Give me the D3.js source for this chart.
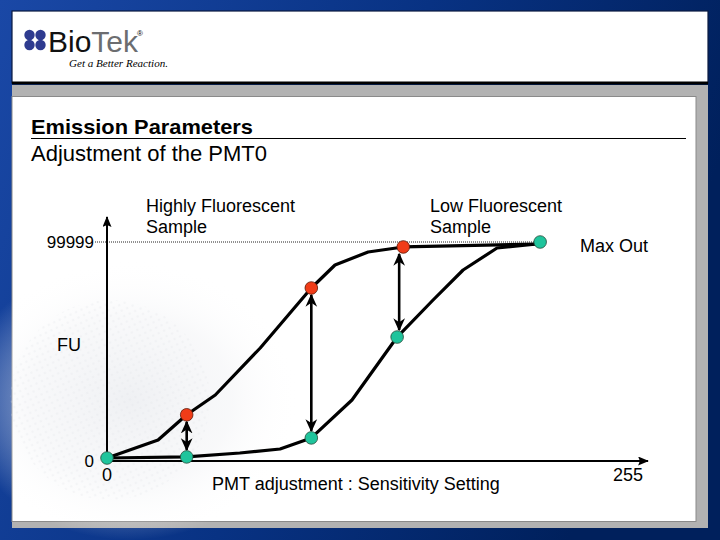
<!DOCTYPE html>
<html>
<head>
<meta charset="utf-8">
<script src="https://cdn.jsdelivr.net/npm/d3@7/dist/d3.min.js"></script>
<style>
  html, body { margin: 0; padding: 0; background: #0a2f80; }
  svg { display: block; }
  text { font-family: Arial, "Liberation Sans", sans-serif; fill: #000; }
</style>
</head>
<body>
<script>
// ---------------- data ----------------
const xTickValues = [0, 255];
const xTickLabels = ["0", "255"];
const yTickValues = [0, 99999];
const yTickLabels = ["0", "99999"];

// Highly fluorescent sample curve (sensitivity, FU)
const highX = [0, 25, 39, 53, 75, 100, 111.6, 127.8, 145, 210.5];
const highY = [0, 8333, 20000, 29166, 50925, 78700, 89351, 95370, 97700, 99074];
// Low fluorescent sample curve
const lowX = [0, 39, 65, 84.7, 100, 119.9, 142, 159.6, 174.3, 190.9, 210.5];
const lowY = [0, 500, 2315, 4166, 9300, 26851, 56000, 73148, 87036, 97222, 99074];

// highlighted points
const redDotX = [39, 100, 145];
const redDotY = [20000, 78700, 97700];
const greenDotX = [0, 39, 100, 142, 212];
const greenDotY = [0, 500, 9300, 56000, 99999];

// double-headed arrows between the two samples
const arrowX = [39, 100, 143];
const arrowTop = [20000, 78700, 97700];
const arrowBottom = [500, 9300, 56000];

const titleLine1 = "Emission Parameters";
const titleLine2 = "Adjustment of the PMT0";
const yAxisLabel = "FU";
const xAxisLabel = "PMT adjustment : Sensitivity Setting";
const maxLabel = "Max Out";
const highLabel = ["Highly Fluorescent", "Sample"];
const lowLabel = ["Low Fluorescent", "Sample"];

// ---------------- drawing ----------------
const W = 720, H = 540;
const svg = d3.select("body").append("svg").attr("width", W).attr("height", H);
const defs = svg.append("defs");

const bg = defs.append("linearGradient").attr("id", "bg").attr("x1", 0).attr("y1", 0).attr("x2", 1).attr("y2", 0.3);
bg.append("stop").attr("offset", 0).attr("stop-color", "#1a48a6");
bg.append("stop").attr("offset", 0.55).attr("stop-color", "#083283");
bg.append("stop").attr("offset", 1).attr("stop-color", "#00205c");

const tex = defs.append("radialGradient").attr("id", "tex")
  .attr("cx", 0.5).attr("cy", 0.5).attr("r", 0.5);
tex.append("stop").attr("offset", 0).attr("stop-color", "#e8eaee").attr("stop-opacity", 0.7);
tex.append("stop").attr("offset", 0.6).attr("stop-color", "#f0f1f4").attr("stop-opacity", 0.45);
tex.append("stop").attr("offset", 1).attr("stop-color", "#ffffff").attr("stop-opacity", 0);

const dotsPat = defs.append("pattern").attr("id", "dotpat").attr("width", 6).attr("height", 6)
  .attr("patternUnits", "userSpaceOnUse").attr("patternTransform", "rotate(-25)");
dotsPat.append("circle").attr("cx", 3).attr("cy", 3).attr("r", 1.3).attr("fill", "#dfe1e6");

function arrowMarker(id, orient) {
  defs.append("marker").attr("id", id)
    .attr("viewBox", "0 0 10 10").attr("refX", 9).attr("refY", 5)
    .attr("markerWidth", 5).attr("markerHeight", 5)
    .attr("markerUnits", "strokeWidth")
    .attr("orient", orient)
    .append("path").attr("d", "M0,0.5 L10,5 L0,9.5 L3,5 Z").attr("fill", "#000");
}
arrowMarker("arrEnd", "auto");
arrowMarker("arrStart", "auto-start-reverse");
defs.append("marker").attr("id", "axArr")
  .attr("viewBox", "0 0 12 10").attr("refX", 11).attr("refY", 5)
  .attr("markerWidth", 12).attr("markerHeight", 9)
  .attr("markerUnits", "userSpaceOnUse")
  .attr("orient", "auto")
  .append("path").attr("d", "M0,0 L12,5 L0,10 L2,5 Z").attr("fill", "#000");

// background
svg.append("rect").attr("width", W).attr("height", H).attr("fill", "url(#bg)");

// header panel
svg.append("rect").attr("x", 12).attr("y", 11).attr("width", 696).attr("height", 72)
  .attr("fill", "#fff").attr("stroke", "#0a1a40").attr("stroke-width", 1.2);
svg.append("line").attr("x1", 12).attr("x2", 708).attr("y1", 83).attr("y2", 83)
  .attr("stroke", "#000").attr("stroke-width", 3);

// grey backing + content panel
svg.append("rect").attr("x", 12).attr("y", 85).attr("width", 696).attr("height", 443).attr("fill", "#b2b2b2");
svg.append("rect").attr("x", 12).attr("y", 96.5).attr("width", 684).attr("height", 425)
  .attr("fill", "#fff").attr("stroke", "#8a8a8a").attr("stroke-width", 1);
// faint microplate texture
svg.append("ellipse").attr("cx", 130).attr("cy", 400).attr("rx", 170).attr("ry", 140)
  .attr("fill", "url(#tex)");
svg.append("ellipse").attr("cx", 110).attr("cy", 400).attr("rx", 100).attr("ry", 100)
  .attr("fill", "url(#dotpat)").attr("opacity", 0.25);

// logo
const logo = svg.append("g");
const ld = [[29.5, 35], [40.5, 35], [29.5, 45], [40.5, 45]];
logo.selectAll("circle").data(ld).join("circle")
  .attr("cx", d => d[0]).attr("cy", d => d[1]).attr("r", 5.2).attr("fill", "#2e3b8f");
const lt = logo.append("text").attr("x", 48).attr("y", 52)
  .style("font-family", "'Liberation Sans', Arial, sans-serif").style("font-size", "30px")
  .attr("textLength", 90).attr("lengthAdjust", "spacingAndGlyphs");
lt.append("tspan").text("Bio").attr("fill", "#111");
lt.append("tspan").text("Tek").attr("fill", "#6c6d70");
logo.append("text").attr("x", 137).attr("y", 36).text("®")
  .style("font-size", "8px").attr("fill", "#555");
logo.append("text").attr("x", 69).attr("y", 67).text("Get a Better Reaction.")
  .style("font-family", "'Liberation Serif', 'DejaVu Serif', serif")
  .style("font-style", "italic").style("font-size", "11px")
  .attr("textLength", 99).attr("lengthAdjust", "spacingAndGlyphs");

// title
svg.append("text").attr("x", 31).attr("y", 134).text(titleLine1)
  .style("font-size", "21px").style("font-weight", "bold")
  .attr("textLength", 222).attr("lengthAdjust", "spacingAndGlyphs");
svg.append("line").attr("x1", 31).attr("x2", 686).attr("y1", 138.5).attr("y2", 138.5)
  .attr("stroke", "#000").attr("stroke-width", 1);
svg.append("text").attr("x", 31).attr("y", 161).text(titleLine2)
  .style("font-size", "22px")
  .attr("textLength", 236).attr("lengthAdjust", "spacingAndGlyphs");

// scales
const x = d3.scaleLinear().domain([0, 255]).range([107, 628]);
const y = d3.scaleLinear().domain([0, 99999]).range([458, 242]);
const axisY = y(0) + 3;

// dotted max line
svg.append("line").attr("x1", 95).attr("x2", x(210.5))
  .attr("y1", y(99999)).attr("y2", y(99999))
  .attr("stroke", "#222").attr("stroke-width", 1).attr("stroke-dasharray", "1,1");

// axes
svg.append("line").attr("x1", x(0)).attr("x2", x(0)).attr("y1", axisY).attr("y2", 217)
  .attr("stroke", "#000").attr("stroke-width", 2).attr("marker-end", "url(#axArr)");
svg.append("line").attr("x1", x(0)).attr("x2", 648).attr("y1", axisY).attr("y2", axisY)
  .attr("stroke", "#000").attr("stroke-width", 2).attr("marker-end", "url(#axArr)");

// tick labels
svg.selectAll(".ytl").data(yTickValues).join("text").attr("class", "ytl")
  .attr("x", 94).attr("y", (d, i) => i === 0 ? axisY + 6 : y(d) + 6)
  .attr("text-anchor", "end")
  .style("font-size", "17px")
  .text((d, i) => yTickLabels[i]);
svg.selectAll(".xtl").data(xTickValues).join("text").attr("class", "xtl")
  .attr("x", d => x(d)).attr("y", axisY + 20)
  .attr("text-anchor", "middle")
  .style("font-size", "18px")
  .text((d, i) => xTickLabels[i]);

// axis / annotation labels
svg.append("text").attr("x", 57).attr("y", 351).text(yAxisLabel).style("font-size", "18px");
svg.append("text").attr("x", 212).attr("y", 490).text(xAxisLabel).style("font-size", "18px");
svg.append("text").attr("x", 580).attr("y", 252).text(maxLabel).style("font-size", "18px");
highLabel.forEach((t, i) => svg.append("text").attr("x", 146).attr("y", 212 + i * 21).text(t).style("font-size", "18px"));
lowLabel.forEach((t, i) => svg.append("text").attr("x", 430).attr("y", 212 + i * 21).text(t).style("font-size", "18px"));

// curves (segmented polylines as in the original drawing)
const line = d3.line().x(d => x(d[0])).y(d => y(d[1])).curve(d3.curveLinear);
svg.append("path").datum(highX.map((v, i) => [v, highY[i]]))
  .attr("d", line).attr("fill", "none").attr("stroke", "#000").attr("stroke-width", 3.2)
  .attr("stroke-linejoin", "round");
svg.append("path").datum(lowX.map((v, i) => [v, lowY[i]]))
  .attr("d", line).attr("fill", "none").attr("stroke", "#000").attr("stroke-width", 3.2)
  .attr("stroke-linejoin", "round");

// double-headed arrows
svg.selectAll(".darr").data(arrowX).join("line").attr("class", "darr")
  .attr("x1", d => x(d)).attr("x2", d => x(d))
  .attr("y1", (d, i) => y(arrowTop[i]) + 7)
  .attr("y2", (d, i) => y(arrowBottom[i]) - 7)
  .attr("stroke", "#000").attr("stroke-width", 2.6)
  .attr("marker-start", "url(#arrStart)").attr("marker-end", "url(#arrEnd)");

// dots
svg.selectAll(".gdot").data(greenDotX).join("circle").attr("class", "gdot")
  .attr("cx", d => x(d)).attr("cy", (d, i) => y(greenDotY[i]))
  .attr("r", 6.3).attr("fill", "#1fc49c").attr("stroke", "#2a4a3a").attr("stroke-width", 0.8);
svg.selectAll(".rdot").data(redDotX).join("circle").attr("class", "rdot")
  .attr("cx", d => x(d)).attr("cy", (d, i) => y(redDotY[i]))
  .attr("r", 6.3).attr("fill", "#f03c18").attr("stroke", "#5a1a0a").attr("stroke-width", 0.8);
</script>
</body>
</html>
